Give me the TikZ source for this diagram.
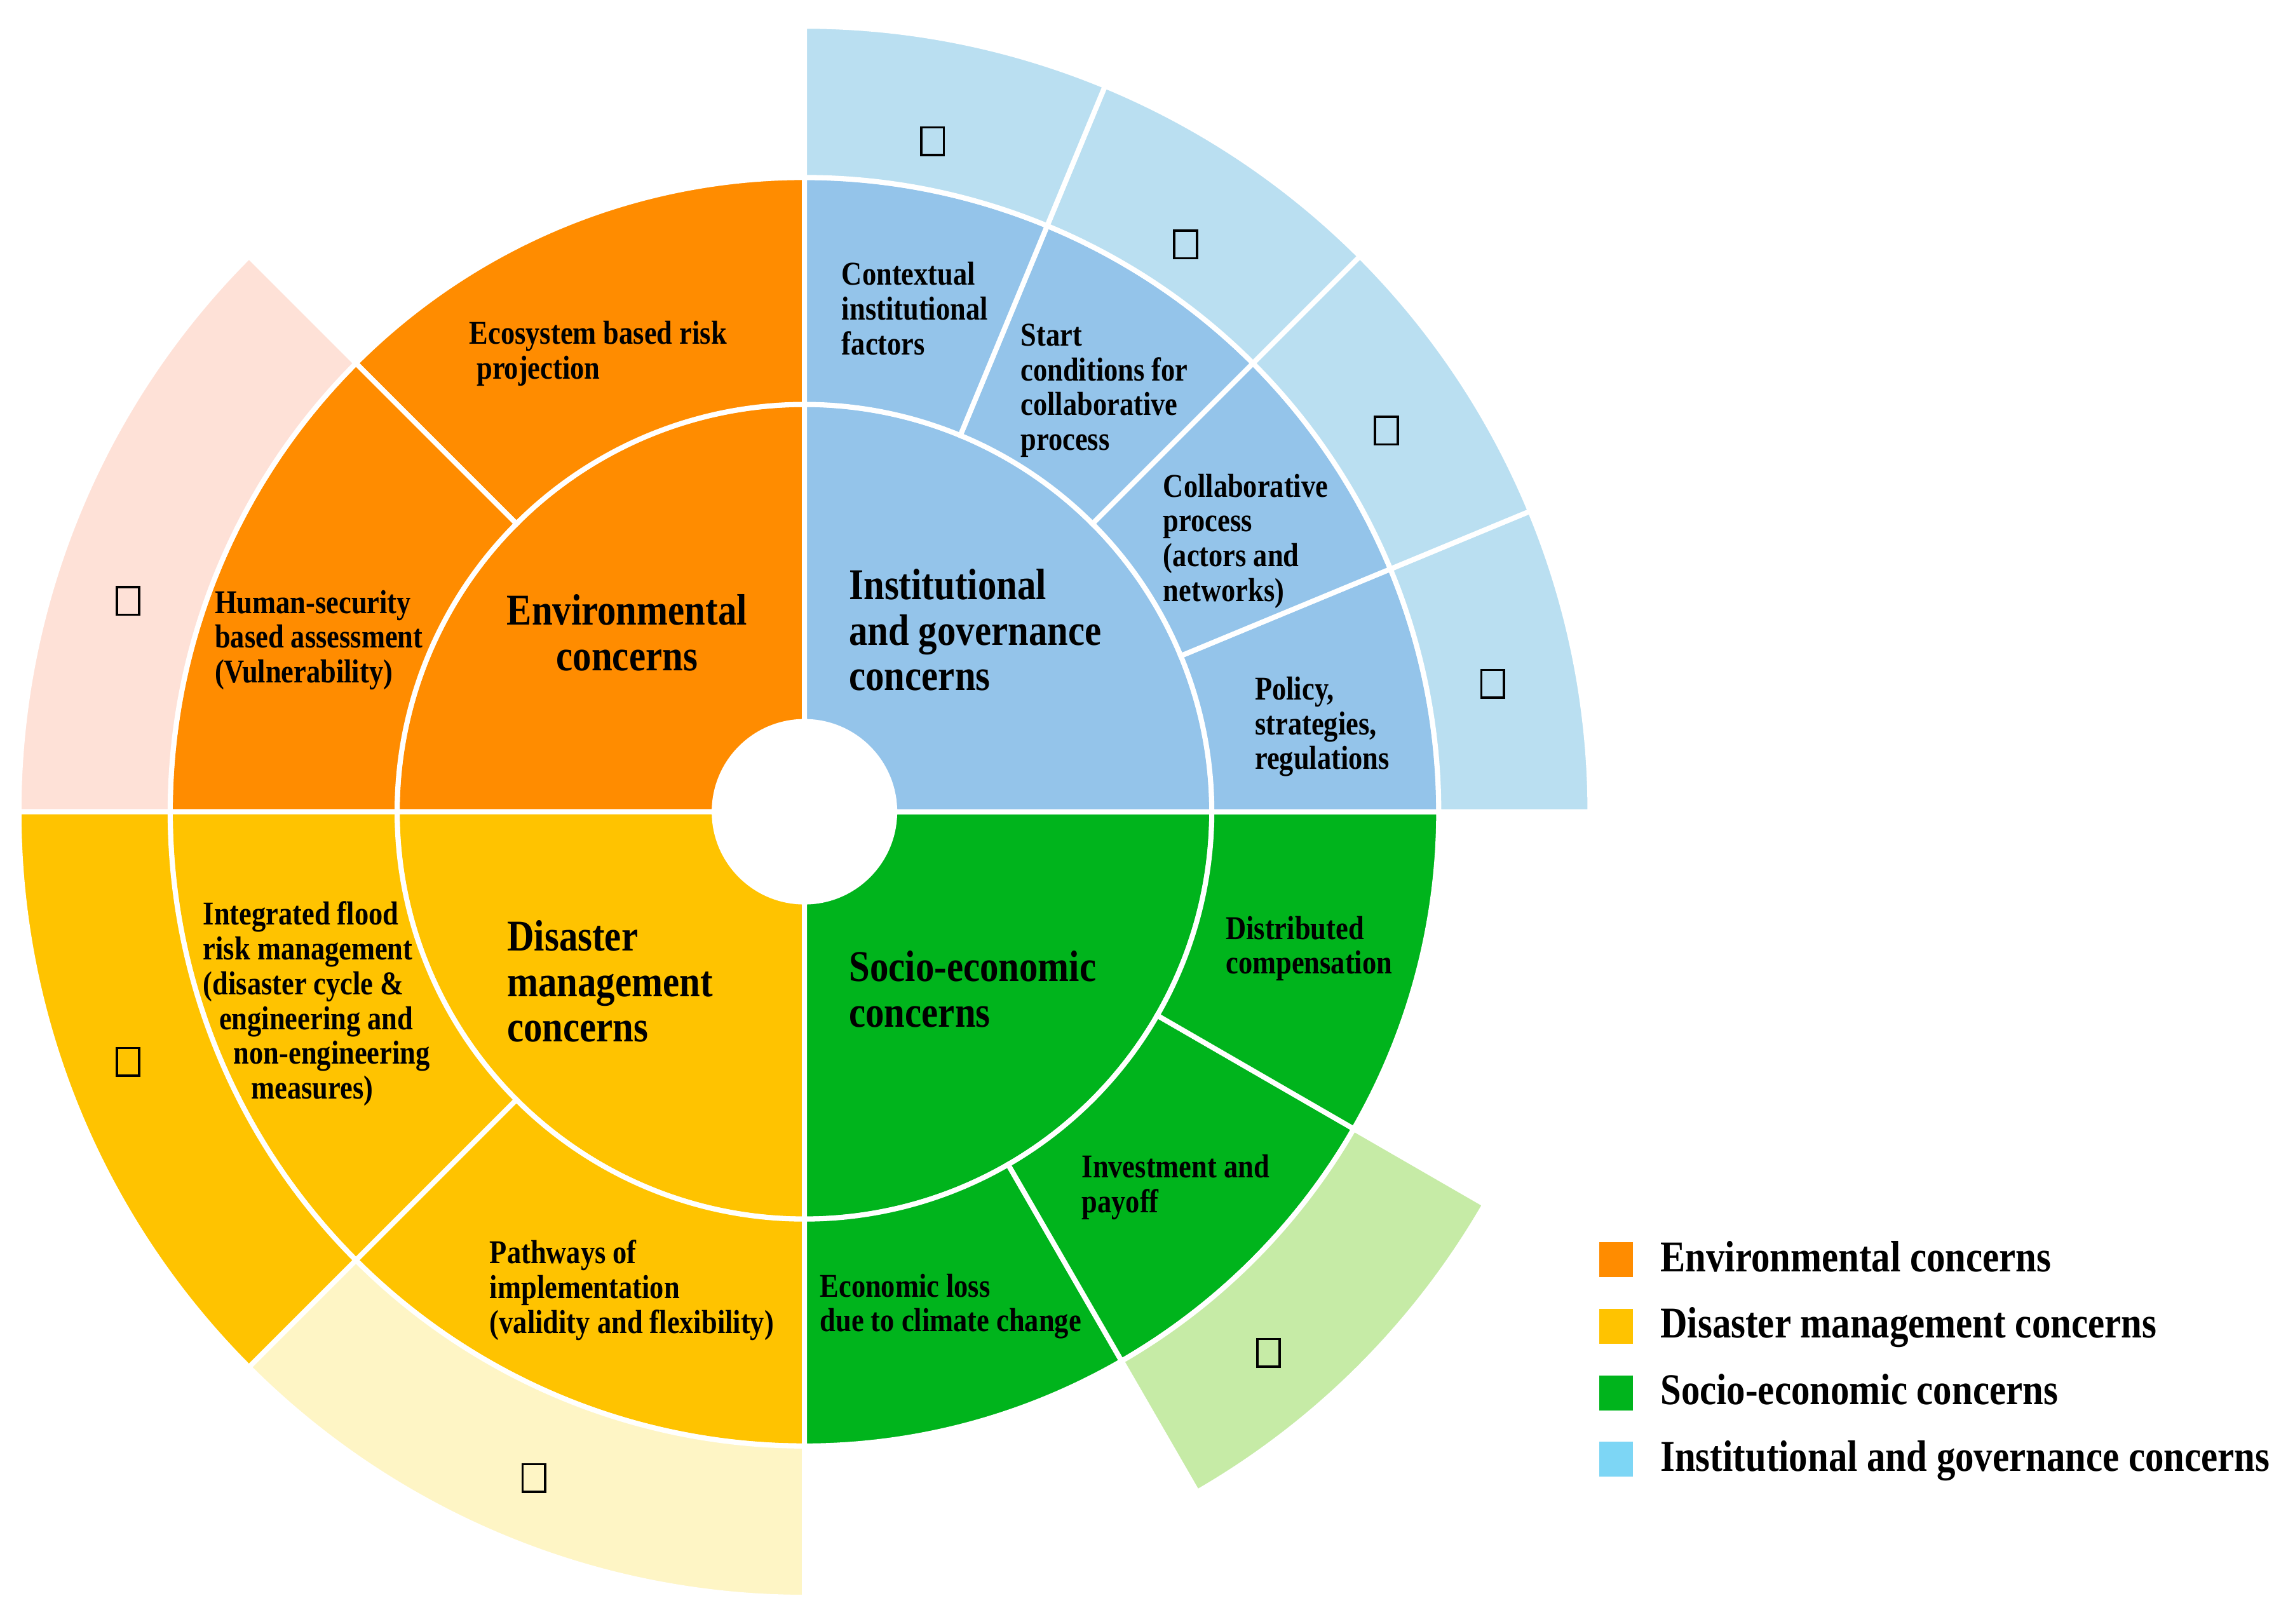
\documentclass[tikz,border=0pt]{standalone}
\usepackage{fontspec}
\setmainfont{Liberation Serif}[FakeStretch=0.85]
\usepackage{tikz}
\usetikzlibrary{positioning}
\usepackage{xcolor}
\definecolor{envorange}{HTML}{FF8C00}
\definecolor{dmyellow}{HTML}{FFC300}
\definecolor{segreen}{HTML}{00B41C}
\definecolor{igblue}{HTML}{94C4EA}
\definecolor{igouter}{HTML}{BADFF1}
\definecolor{envouter}{HTML}{FEE1D7}
\definecolor{dmouter}{HTML}{FEF5C5}
\definecolor{seouter}{HTML}{C6EBA6}
\definecolor{igkey}{HTML}{7DD6F5}
\newcommand{\ringseg}[5]{\filldraw[fill=#1,draw=white,line width=1pt] (#4:#2) arc[start angle=#4,end angle=#5,radius=#2] -- (#5:#3) arc[start angle=#5,end angle=#4,radius=#3] -- cycle;}

\begin{document}
\begin{tikzpicture}[
    small/.style={font=\bfseries\fontsize{6.5}{6.8}\selectfont,align=left,inner sep=0pt,anchor=west},
    big/.style={font=\bfseries\fontsize{8.6}{8.9}\selectfont,align=left,inner sep=0pt,anchor=west},
    tofu/.style={draw,line width=0.45pt,minimum width=0.155cm,minimum height=0.19cm,inner sep=0pt},
    legbox/.style={minimum width=0.23cm,minimum height=0.24cm,inner sep=0pt},
    legtext/.style={font=\bfseries\fontsize{8.6}{8.9}\selectfont,inner sep=0pt,anchor=west,text height=1.5ex,text depth=0.5ex}]
    \useasboundingbox (-5.53,-5.58) rectangle (10.15,5.58);
    % inner ring
    \ringseg{envorange}{0.62}{2.80}{90}{180}
    \ringseg{dmyellow}{0.62}{2.80}{180}{270}
    \ringseg{segreen}{0.62}{2.80}{270}{360}
    \ringseg{igblue}{0.62}{2.80}{0}{90}
    % middle ring
    \foreach \a in {90,135}{\ringseg{envorange}{2.80}{4.36}{\a}{\a+45}}
    \foreach \a in {180,225}{\ringseg{dmyellow}{2.80}{4.36}{\a}{\a+45}}
    \foreach \a in {270,300,330}{\ringseg{segreen}{2.80}{4.36}{\a}{\a+30}}
    \foreach \a in {0,22.5,45,67.5}{\ringseg{igblue}{2.80}{4.36}{\a}{\a+22.5}}
    % outer ring
    \ringseg{envouter}{4.36}{5.40}{135}{180}
    \ringseg{dmyellow}{4.36}{5.40}{180}{225}
    \ringseg{dmouter}{4.36}{5.40}{225}{270}
    \ringseg{seouter}{4.36}{5.40}{300}{330}
    \foreach \a in {0,22.5,45,67.5}{\ringseg{igouter}{4.36}{5.40}{\a}{\a+22.5}}
    \fill[white] (0,0) circle (0.62);

    \node[big,align=center,anchor=center] (env) at (-1.22,1.23) {Environmental\\concerns};
    \node[small] (ecosys) at (-2.31,3.15) {Ecosystem based risk\\\hspace*{0.05cm}projection};
    \node[small] (humansec) at (-4.06,1.18) {Human-security\\based assessment\\(Vulnerability)};
    \node[big] (dm) at (-2.05,-1.165) {Disaster\\management\\concerns};
    \node[small] (ifrm) at (-4.14,-1.32) {Integrated flood\\risk management\\(disaster cycle \&\\\hspace*{0.11cm}engineering and\\\hspace*{0.21cm}non-engineering\\\hspace*{0.33cm}measures)};
    \node[small] (pathways) at (-2.17,-3.29) {Pathways of\\implementation\\(validity and flexibility)};
    \node[big] (se) at (0.30,-1.22) {Socio-economic\\concerns};
    \node[small] (distcomp) at (2.89,-0.94) {Distributed\\compensation};
    \node[small] (invest) at (1.90,-2.58) {Investment and\\payoff};
    \node[small] (ecoloss) at (0.10,-3.40) {Economic loss\\due to climate change};
    \node[big] (ig) at (0.30,1.25) {Institutional\\and governance\\concerns};
    \node[small] (context) at (0.25,3.46) {Contextual\\institutional\\factors};
    \node[small] (startcond) at (1.48,2.895) {Start\\conditions for\\collaborative\\process};
    \node[small] (collab) at (2.46,1.86) {Collaborative\\process\\(actors and\\networks)};
    \node[small] (policy) at (3.09,0.585) {Policy,\\strategies,\\regulations};

    \node[tofu] (t1) at (0.88,4.61) {};
    \node[tofu] (t2) at (2.62,3.90) {};
    \node[tofu] (t3) at (4.00,2.62) {};
    \node[tofu] (t4) at (4.73,0.88) {};
    \node[tofu] (t5) at (-4.65,1.45) {};
    \node[tofu] (t6) at (-4.65,-1.72) {};
    \node[tofu] (t7) at (-1.86,-4.58) {};
    \node[tofu] (t8) at (3.19,-3.72) {};

    \foreach \c/\t [count=\i] in {envorange/Environmental concerns,dmyellow/Disaster management concerns,segreen/Socio-economic concerns,igkey/Institutional and governance concerns}{
        \node[legbox,fill=\c] (key\i) at ({5.58},{-3.08-0.457*(\i-1)}) {};
        \node[legtext,right=0.175 of key\i] (keytext\i) {\t};
    }
\end{tikzpicture}
\end{document}
